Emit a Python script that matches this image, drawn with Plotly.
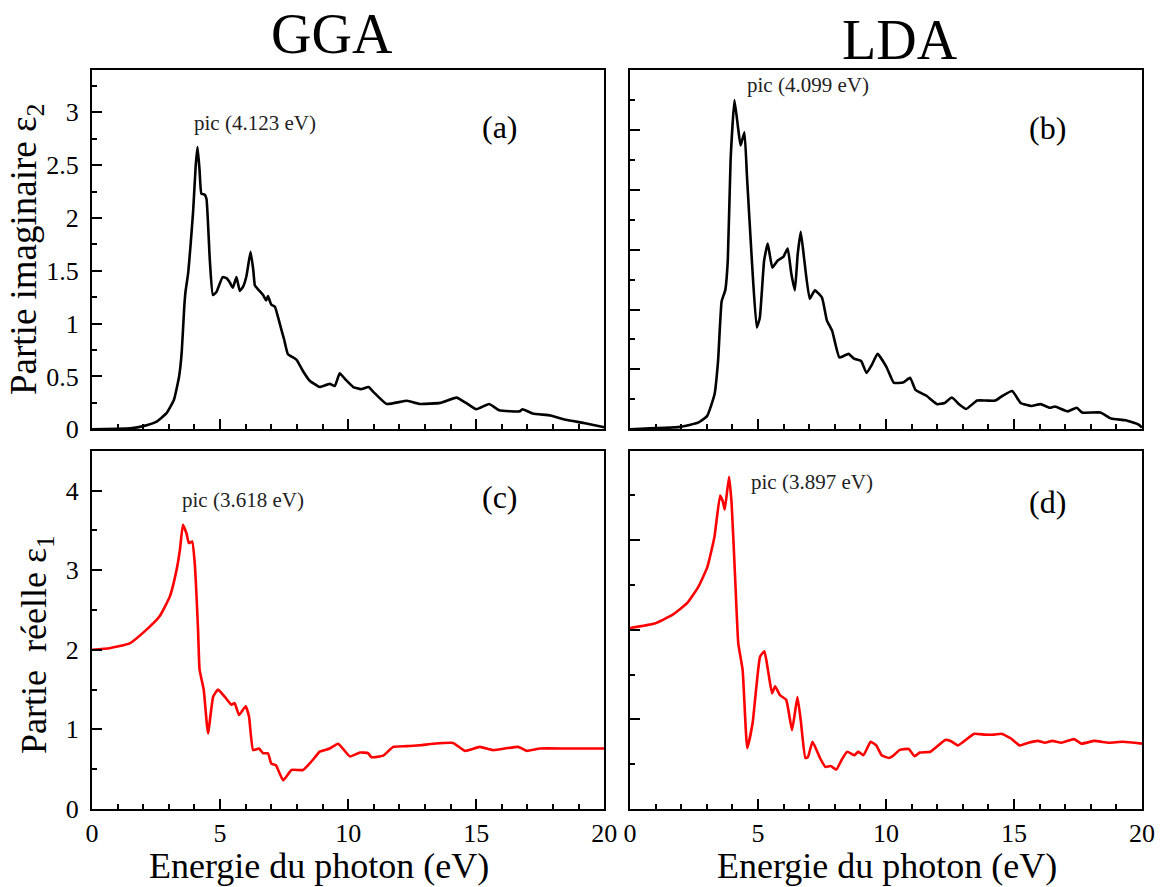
import plotly.graph_objects as go

# ---------------- data ----------------
# (a) GGA, imaginary part eps2
gga_e2_x = [0, 1, 1.5, 2.0, 2.5, 2.9, 3.2, 3.4, 3.5, 3.6, 3.65, 3.75, 3.85, 3.95, 4.05, 4.12, 4.2, 4.27,
            4.4, 4.47, 4.6, 4.72, 4.86, 5.1, 5.25, 5.38, 5.5, 5.64, 5.77, 5.9, 6.03, 6.19, 6.3, 6.36, 6.5,
            6.68, 6.8, 6.87, 7.0, 7.14, 7.33, 7.5, 7.65, 7.98, 8.24, 8.5, 8.89, 9.28, 9.48, 9.67, 9.9,
            10.2, 10.5, 10.8, 11.0, 11.5, 12.3, 12.8, 13.6, 14.23, 14.6, 15.0, 15.5, 15.9, 16.7, 16.8,
            17.2, 17.9, 18.5, 19.2, 20]
gga_e2_y = [0.0, 0.005, 0.01, 0.03, 0.07, 0.15, 0.28, 0.5, 0.72, 1.15, 1.3, 1.47, 1.75, 2.07, 2.5, 2.67, 2.45, 2.23,
            2.22, 2.18, 1.6, 1.27, 1.3, 1.44, 1.43, 1.39, 1.34, 1.44, 1.31, 1.35, 1.45, 1.68, 1.5, 1.36, 1.32,
            1.27, 1.22, 1.26, 1.18, 1.16, 1.0, 0.85, 0.71, 0.66, 0.55, 0.46, 0.40, 0.43, 0.41, 0.53, 0.47,
            0.40, 0.38, 0.40, 0.35, 0.24, 0.27, 0.24, 0.25, 0.30, 0.25, 0.19, 0.24, 0.18, 0.17, 0.19,
            0.15, 0.13, 0.09, 0.06, 0.02]

# (b) LDA, imaginary part eps2
lda_e2_x = [0, 1.95, 2.66, 3.01, 3.3, 3.44, 3.58, 3.72, 3.82, 3.93, 4.08, 4.22, 4.32, 4.47, 4.57, 4.76, 4.95,
            5.07, 5.24, 5.38, 5.56, 5.77, 5.99, 6.16, 6.3, 6.44, 6.55, 6.67, 6.81, 7.02, 7.22, 7.5, 7.69,
            7.9, 8.18, 8.54, 8.75, 9.03, 9.24, 9.45, 9.67, 10.02, 10.3, 10.66, 10.94, 11.15, 11.58, 12.0,
            12.29, 12.57, 12.85, 13.13, 13.56, 13.91, 14.27, 14.55, 14.93, 15.26, 15.68, 16.04, 16.39,
            16.6, 17.1, 17.45, 17.66, 18.37, 18.8, 19.36, 19.86, 20]
lda_e2_y = [0.0, 0.02, 0.056, 0.11, 0.29, 0.57, 1.07, 1.16, 1.41, 2.25, 2.75, 2.52, 2.37, 2.48, 2.11, 1.41, 0.85,
            0.93, 1.41, 1.55, 1.35, 1.41, 1.44, 1.51, 1.30, 1.16, 1.46, 1.65, 1.41, 1.09, 1.16, 1.10, 0.91,
            0.82, 0.60, 0.63, 0.59, 0.57, 0.47, 0.54, 0.63, 0.52, 0.39, 0.39, 0.43, 0.33, 0.28, 0.21,
            0.22, 0.265, 0.21, 0.17, 0.24, 0.24, 0.24, 0.28, 0.32, 0.22, 0.195, 0.21, 0.18,
            0.19, 0.15, 0.18, 0.14, 0.14, 0.09, 0.075, 0.04, 0.015]

# (c) GGA, real part eps1
gga_e1_x = [0, 0.69, 1.47, 2.12, 2.64, 3.04, 3.3, 3.43, 3.55, 3.69, 3.78, 3.91, 4.01, 4.14, 4.2, 4.36, 4.53,
            4.73, 4.92, 5.18, 5.44, 5.57, 5.74, 6.0, 6.13, 6.29, 6.52, 6.68, 6.87, 7.0, 7.18, 7.46, 7.79,
            8.24, 8.63, 8.89, 9.28, 9.61, 10.07, 10.46, 10.78, 10.91, 11.37, 11.76, 12.28, 12.8, 13.32,
            14.1, 14.56, 15.14, 15.66, 16.64, 16.97, 17.49, 18.53, 20]
gga_e1_y = [2.0, 2.02, 2.08, 2.25, 2.42, 2.67, 3.0, 3.25, 3.57, 3.46, 3.34, 3.36, 3.09, 2.25, 1.75, 1.5, 0.95,
            1.41, 1.5, 1.41, 1.31, 1.33, 1.18, 1.29, 1.16, 0.74, 0.76, 0.70, 0.70, 0.57, 0.55, 0.36, 0.49,
            0.49, 0.62, 0.72, 0.76, 0.82, 0.66, 0.71, 0.70, 0.65, 0.67, 0.78, 0.79, 0.80, 0.82,
            0.83, 0.73, 0.78, 0.74, 0.78, 0.73, 0.76, 0.76, 0.76]

# (d) LDA, real part eps1
lda_e1_x = [0, 0.96, 1.67, 2.24, 2.67, 3.02, 3.3, 3.52, 3.63, 3.70, 3.87, 3.97, 4.11, 4.23, 4.40, 4.58, 4.79,
            5.08, 5.25, 5.39, 5.55, 5.67, 5.86, 6.1, 6.33, 6.54, 6.67, 6.85, 6.95, 7.13, 7.42, 7.63, 7.84,
            8.06, 8.27, 8.48, 8.77, 8.91, 9.12, 9.4, 9.62, 9.83, 10.11, 10.26, 10.54, 10.89, 11.11, 11.32,
            11.74, 12.31, 12.52, 12.81, 13.02, 13.45, 13.87, 14.23, 14.51, 14.87, 15.22, 15.57, 15.93,
            16.21, 16.5, 16.85, 17.35, 17.63, 18.13, 18.7, 19.26, 20]
lda_e1_y = [2.02, 2.07, 2.17, 2.30, 2.48, 2.70, 3.04, 3.50, 3.43, 3.34, 3.71, 3.41, 2.56, 1.85, 1.55, 0.68, 0.96,
            1.70, 1.76, 1.55, 1.29, 1.37, 1.27, 1.22, 0.88, 1.25, 0.99, 0.57, 0.58, 0.75, 0.57, 0.47, 0.48,
            0.44, 0.55, 0.64, 0.60, 0.64, 0.60, 0.75, 0.71, 0.60, 0.57, 0.59, 0.66, 0.67, 0.59, 0.63,
            0.64, 0.77, 0.76, 0.71, 0.75, 0.84, 0.83, 0.83, 0.84, 0.79, 0.71, 0.74, 0.76,
            0.74, 0.76, 0.74, 0.78, 0.73, 0.76, 0.74, 0.75, 0.73]

x_ticks = [0, 5, 10, 15, 20]
x_tick_labels = ["0", "5", "10", "15", "20"]

# ---------------- figure ----------------
W, H = 1170, 887
ML, MR, MT, MB = 92, 28, 70, 78
PW, PH = W - ML - MR, H - MT - MB

def px_x(p):
    return (p - ML) / PW

def px_y(p):
    return (H - MB - p) / PH

FONT = "Liberation Serif"
fig = go.Figure()

line_kw = dict(shape="spline", smoothing=0.4, width=2.6)
fig.add_trace(go.Scatter(x=gga_e2_x, y=gga_e2_y, mode="lines", line=dict(color="black", **line_kw),
                         xaxis="x", yaxis="y", showlegend=False))
fig.add_trace(go.Scatter(x=lda_e2_x, y=lda_e2_y, mode="lines", line=dict(color="black", **line_kw),
                         xaxis="x2", yaxis="y2", showlegend=False))
fig.add_trace(go.Scatter(x=gga_e1_x, y=gga_e1_y, mode="lines", line=dict(color="#ff0000", **line_kw),
                         xaxis="x3", yaxis="y3", showlegend=False))
fig.add_trace(go.Scatter(x=lda_e1_x, y=lda_e1_y, mode="lines", line=dict(color="#ff0000", **line_kw),
                         xaxis="x4", yaxis="y4", showlegend=False))

xl = [0, px_x(604.3)]
xr = [px_x(630), 1]
yt = [px_y(429.3), 1]
yb = [0, px_y(450.7)]

def xaxis(domain, anchor, labels):
    return dict(domain=domain, anchor=anchor, range=[0, 20], tickvals=x_ticks,
                ticktext=x_tick_labels, showticklabels=labels,
                ticks="inside", ticklen=10, tickwidth=2, tickcolor="black",
                minor=dict(dtick=1, tick0=0, ticks="inside", ticklen=5, tickwidth=2, tickcolor="black"),
                showline=True, linecolor="black", linewidth=2, mirror=True,
                showgrid=False, zeroline=False, ticklabelstandoff=0,
                tickfont=dict(family=FONT, size=26, color="black"))

def yaxis(domain, anchor, rng, dtick, mdtick, labels):
    return dict(domain=domain, anchor=anchor, range=rng, dtick=dtick, tick0=0, showticklabels=labels,
                ticks="inside", ticklen=10, tickwidth=2, tickcolor="black",
                minor=dict(dtick=mdtick, tick0=0, ticks="inside", ticklen=5, tickwidth=2, tickcolor="black"),
                showline=True, linecolor="black", linewidth=2, mirror=True,
                showgrid=False, zeroline=False, ticklabelstandoff=6,
                tickfont=dict(family=FONT, size=26, color="black"))

fig.update_layout(
    width=W, height=H,
    margin=dict(l=ML, r=MR, t=MT, b=MB),
    paper_bgcolor="white", plot_bgcolor="white",
    xaxis=xaxis(xl, "y", False),
    yaxis=yaxis(yt, "x", [0, 3.4], 0.5, 0.25, True),
    xaxis2=xaxis(xr, "y2", False),
    yaxis2=yaxis(yt, "x2", [0, 3.0], 0.5, 0.25, False),
    xaxis3=xaxis(xl, "y3", True),
    yaxis3=yaxis(yb, "x3", [0, 4.5], 1, 0.5, True),
    xaxis4=xaxis(xr, "y4", True),
    yaxis4=yaxis(yb, "x4", [0, 4.0], 1, 0.5, False),
)

def ann(text, x, y, size, angle=0, color="black"):
    fig.add_annotation(text=text, x=px_x(x), y=px_y(y), xref="paper", yref="paper",
                       showarrow=False, xanchor="center", yanchor="middle", textangle=angle,
                       font=dict(family=FONT, size=size, color=color))

ann("GGA", 332, 34, 56)
ann("LDA", 900, 40, 56)
ann("pic (4.123 eV)", 255, 123, 21, color="#222222")
ann("(a)", 500, 127, 32)
ann("pic (4.099 eV)", 808, 85, 21, color="#222222")
ann("(b)", 1047, 128, 32)
ann("pic (3.618 eV)", 243, 500, 21, color="#222222")
ann("(c)", 500, 497, 32)
ann("pic (3.897 eV)", 812, 482, 21, color="#222222")
ann("(d)", 1047, 502, 32)
ann("Partie imaginaire ε<sub>2</sub>", 26, 249, 37, angle=-90)
ann("Partie  réelle ε<sub>1</sub>", 36, 645, 36, angle=-90)
ann("Energie du photon (eV)", 319, 866, 36)
ann("Energie du photon (eV)", 887, 866, 36)

fig.write_html("out.html", config={"displayModeBar": False},
               post_script="document.body.style.margin='0';")
